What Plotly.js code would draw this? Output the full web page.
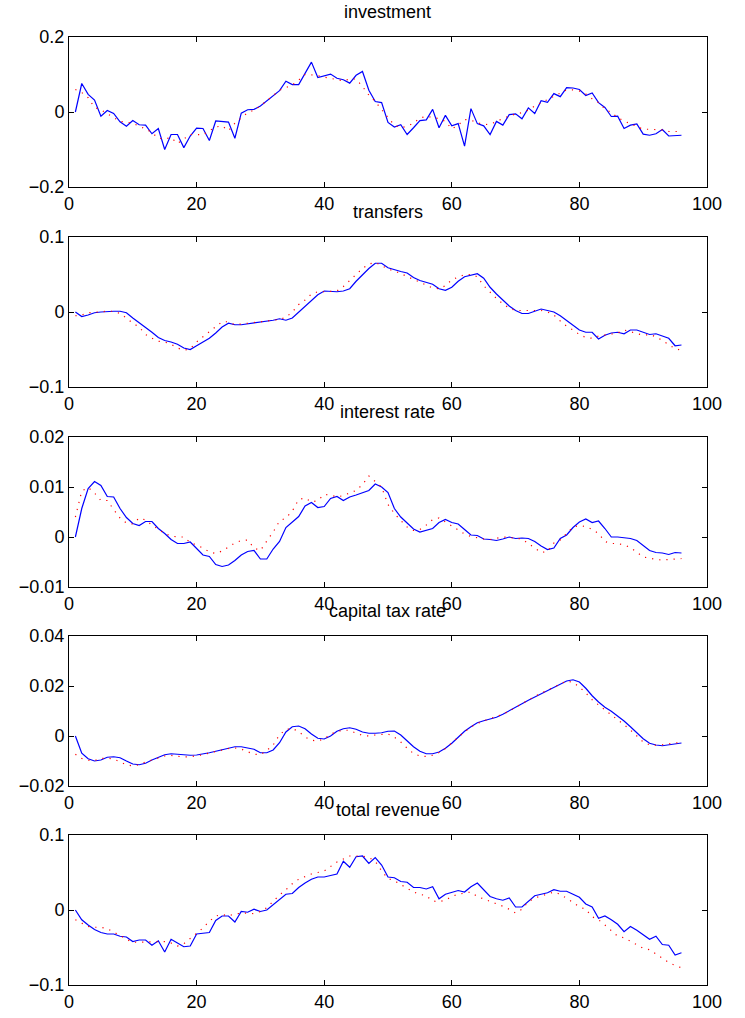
<!DOCTYPE html>
<html>
<head>
<meta charset="utf-8">
<script src="https://cdn.plot.ly/plotly-3.0.1.min.js"></script>
<style>
html,body{margin:0;padding:0;background:#fff;}
#chart{width:745px;height:1018px;}
</style>
</head>
<body>
<div id="chart"></div>
<script>
// ---- data ----
const panelTitles = ["investment", "transfers", "interest rate", "capital tax rate", "total revenue"];
const xTickVals = [0, 20, 40, 60, 80, 100];

const investmentBlue = [0, 0.076, 0.047, 0.032, -0.011, 0.004, -0.004, -0.026, -0.038, -0.023,
 -0.034, -0.035, -0.058, -0.044, -0.1, -0.06, -0.06, -0.095, -0.064, -0.043,
 -0.044, -0.076, -0.024, -0.026, -0.027, -0.07, -0.003, 0.006, 0.007, 0.016,
 0.03, 0.043, 0.057, 0.082, 0.073, 0.073, 0.103, 0.133, 0.092, 0.096,
 0.101, 0.09, 0.086, 0.077, 0.098, 0.108, 0.058, 0.028, 0.025, -0.028,
 -0.04, -0.034, -0.06, -0.042, -0.023, -0.021, 0.007, -0.042, -0.009, -0.037,
 -0.031, -0.091, 0.009, -0.031, -0.037, -0.06, -0.025, -0.035, -0.007, -0.005,
 -0.018, 0.011, -0.004, 0.03, 0.026, 0.049, 0.041, 0.065, 0.064, 0.06,
 0.044, 0.051, 0.025, 0.012, -0.012, -0.011, -0.044, -0.035, -0.032, -0.059,
 -0.062, -0.058, -0.047, -0.064, -0.062, -0.062];
const investmentRed = [0.06, 0.052, 0.038, 0.012, 0.006, -0.004, -0.015, -0.025, -0.027, -0.03,
 -0.038, -0.045, -0.055, -0.07, -0.072, -0.068, -0.084, -0.072, -0.06, -0.06,
 -0.061, -0.05, -0.04, -0.037, -0.05, -0.03, -0.015, -0.002, 0.005, 0.016,
 0.03, 0.043, 0.058, 0.065, 0.072, 0.085, 0.1, 0.099, 0.097, 0.093,
 0.089, 0.085, 0.083, 0.088, 0.088, 0.068, 0.045, 0.028, 0.005, -0.015,
 -0.035, -0.042, -0.038, -0.03, -0.016, -0.012, -0.014, -0.018, -0.025, -0.045,
 -0.035, -0.02, -0.022, -0.028, -0.034, -0.032, -0.026, -0.017, -0.011, -0.005,
 -0.002, 0.005, 0.016, 0.025, 0.034, 0.043, 0.052, 0.059, 0.059, 0.056,
 0.048, 0.035, 0.025, 0.008, -0.001, -0.015, -0.024, -0.032, -0.04, -0.046,
 -0.046, -0.046, -0.048, -0.052, -0.052, -0.052];

const transfersBlue = [0, -0.006, -0.004, -0.001, 0, 0.001, 0.001, 0.001, -0.001, -0.008,
 -0.014, -0.02, -0.027, -0.034, -0.038, -0.04, -0.043, -0.048, -0.05, -0.045,
 -0.04, -0.035, -0.028, -0.02, -0.015, -0.017, -0.017, -0.016, -0.015, -0.014,
 -0.013, -0.011, -0.009, -0.011, -0.008, 0, 0.008, 0.016, 0.023, 0.028,
 0.027, 0.027, 0.028, 0.031, 0.041, 0.05, 0.058, 0.065, 0.065, 0.059,
 0.056, 0.054, 0.052, 0.046, 0.042, 0.039, 0.037, 0.031, 0.029, 0.033,
 0.041, 0.047, 0.049, 0.051, 0.045, 0.033, 0.024, 0.016, 0.008, 0.002,
 -0.002, -0.002, 0.001, 0.004, 0.002, 0, -0.005, -0.011, -0.018, -0.024,
 -0.027, -0.027, -0.036, -0.031, -0.028, -0.027, -0.029, -0.024, -0.024, -0.027,
 -0.03, -0.029, -0.032, -0.035, -0.045, -0.044];
const transfersRed = [-0.005, -0.004, -0.001, 0, 0.001, 0.001, 0.001, -0.002, -0.008, -0.015,
 -0.02, -0.03, -0.035, -0.039, -0.04, -0.043, -0.048, -0.051, -0.049, -0.04,
 -0.033, -0.026, -0.019, -0.013, -0.013, -0.017, -0.016, -0.015, -0.014, -0.013,
 -0.012, -0.011, -0.01, -0.007, 0, 0.01, 0.016, 0.024, 0.027, 0.027,
 0.027, 0.028, 0.034, 0.042, 0.05, 0.058, 0.064, 0.066, 0.062, 0.057,
 0.055, 0.051, 0.048, 0.044, 0.04, 0.036, 0.032, 0.031, 0.035, 0.043,
 0.047, 0.05, 0.05, 0.047, 0.035, 0.026, 0.018, 0.011, 0.005, 0.002,
 0.002, 0.002, 0.003, 0.002, 0, -0.004, -0.012, -0.019, -0.024, -0.03,
 -0.034, -0.035, -0.032, -0.031, -0.03, -0.028, -0.024, -0.026, -0.029, -0.031,
 -0.03, -0.033, -0.038, -0.044, -0.049, -0.051];

const interestBlue = [0, 0.0057, 0.0097, 0.0111, 0.0103, 0.0081, 0.008, 0.0057, 0.0039, 0.0027,
 0.0023, 0.0031, 0.0031, 0.0017, 0.0007, -0.0005, -0.0013, -0.0013, -0.001, -0.0023,
 -0.0036, -0.0039, -0.0055, -0.0059, -0.0056, -0.0047, -0.0036, -0.0029, -0.0027, -0.0044,
 -0.0044, -0.0024, -0.0009, 0.0019, 0.0031, 0.0041, 0.0062, 0.0069, 0.0059, 0.0061,
 0.0077, 0.0081, 0.0073, 0.008, 0.0084, 0.0088, 0.0093, 0.0106, 0.01, 0.0089,
 0.0057, 0.004, 0.0027, 0.0016, 0.001, 0.0013, 0.0017, 0.0029, 0.0035, 0.0029,
 0.0026, 0.0015, 0.0004, 0.0003, -0.0004, -0.0005, -0.0007, -0.0004, 0, -0.0003,
 -0.0002, -0.0003, -0.0009, -0.0018, -0.0025, -0.0022, -0.0003, 0.0004, 0.0019, 0.003,
 0.0036, 0.0029, 0.0032, 0.0017, 0, 0, -0.0001, -0.0003, -0.0007, -0.0017,
 -0.0027, -0.0031, -0.0032, -0.0035, -0.0031, -0.0032];
const interestRed = [0.004, 0.0092, 0.0099, 0.0088, 0.0073, 0.0073, 0.0055, 0.0038, 0.0028, 0.0026,
 0.0038, 0.0034, 0.0024, 0.0016, 0.0007, 0.0002, 0, 0, -0.0011, -0.0016,
 -0.0022, -0.003, -0.0033, -0.0028, -0.002, -0.0012, -0.0007, -0.0006, -0.0022, -0.0027,
 -0.0008, 0.001, 0.0032, 0.0038, 0.0052, 0.0075, 0.0078, 0.007, 0.0073, 0.0085,
 0.0084, 0.008, 0.0083, 0.0088, 0.0093, 0.0105, 0.0122, 0.0111, 0.01, 0.0065,
 0.0047, 0.0033, 0.002, 0.0013, 0.0015, 0.0024, 0.0035, 0.0038, 0.003, 0.0022,
 0.0014, 0.0006, 0.0001, -0.0002, -0.0004, -0.0005, -0.0002, 0, -0.0001, -0.0002,
 -0.0004, -0.0013, -0.0022, -0.0031, -0.0029, -0.0012, -0.0006, 0.0008, 0.002, 0.0023,
 0.0021, 0.0015, 0.0007, -0.0009, -0.0013, -0.0013, -0.0016, -0.0021, -0.0031, -0.004,
 -0.0042, -0.0045, -0.0046, -0.0045, -0.0044, -0.0043];

const capTaxBlue = [0, -0.0069, -0.0091, -0.01, -0.0096, -0.0085, -0.0083, -0.0087, -0.01, -0.0112,
 -0.0115, -0.0109, -0.0096, -0.0084, -0.0075, -0.0071, -0.0073, -0.0076, -0.0077, -0.0076,
 -0.0073, -0.0067, -0.0061, -0.0055, -0.0048, -0.0043, -0.0043, -0.0047, -0.0053, -0.0067,
 -0.0067, -0.0056, -0.0027, 0.0016, 0.0037, 0.004, 0.0029, 0.0008, -0.0009, -0.0012,
 0, 0.0019, 0.0029, 0.0033, 0.0027, 0.0016, 0.0011, 0.0011, 0.0013, 0.0019,
 0.002, 0.0004, -0.0019, -0.0043, -0.0061, -0.0071, -0.0071, -0.0064, -0.0049, -0.0029,
 -0.0005, 0.0019, 0.0037, 0.0053, 0.0061, 0.0067, 0.0075, 0.0087, 0.01, 0.0115,
 0.0129, 0.0143, 0.0156, 0.0169, 0.0181, 0.0195, 0.0208, 0.022, 0.0225, 0.0216,
 0.0191, 0.0161, 0.0136, 0.0115, 0.0099, 0.008, 0.006, 0.0037, 0.0012, -0.0011,
 -0.0029, -0.0036, -0.0039, -0.0036, -0.0031, -0.0028];
const capTaxRed = [-0.0073, -0.009, -0.0097, -0.0098, -0.009, -0.0088, -0.0092, -0.0102, -0.0115, -0.012,
 -0.0115, -0.0104, -0.0096, -0.0087, -0.008, -0.0078, -0.0082, -0.0084, -0.0083, -0.008,
 -0.0075, -0.0068, -0.0062, -0.0055, -0.005, -0.0048, -0.0052, -0.0063, -0.0073, -0.0075,
 -0.0058, -0.0036, 0.0005, 0.0026, 0.003, 0.0018, -0.0004, -0.0017, -0.002, -0.0011,
 0.0007, 0.0018, 0.0023, 0.0023, 0.0011, 0.0003, 0, 0.0004, 0.0006, 0.0008,
 -0.0005, -0.0024, -0.0049, -0.007, -0.008, -0.0082, -0.0077, -0.0066, -0.005, -0.0027,
 -0.0003, 0.0017, 0.0036, 0.005, 0.006, 0.0068, 0.0077, 0.0087, 0.01, 0.0115,
 0.013, 0.0145, 0.0158, 0.0171, 0.0183, 0.0195, 0.0207, 0.022, 0.0215, 0.0196,
 0.0172, 0.0145, 0.0124, 0.0105, 0.0083, 0.0065, 0.0045, 0.0024, -0.0002, -0.0024,
 -0.0035, -0.0037, -0.0035, -0.0031, -0.0027, -0.0025];

const revenueBlue = [0, -0.013, -0.02, -0.026, -0.03, -0.032, -0.032, -0.035, -0.036, -0.042,
 -0.04, -0.04, -0.047, -0.041, -0.056, -0.039, -0.044, -0.049, -0.048, -0.032,
 -0.031, -0.03, -0.014, -0.008, -0.008, -0.016, -0.002, -0.003, 0.001, -0.002,
 0, 0.007, 0.015, 0.021, 0.022, 0.03, 0.036, 0.041, 0.044, 0.044,
 0.046, 0.048, 0.065, 0.057, 0.071, 0.072, 0.062, 0.07, 0.06, 0.044,
 0.043, 0.038, 0.037, 0.03, 0.03, 0.028, 0.031, 0.015, 0.021, 0.024,
 0.026, 0.024, 0.031, 0.036, 0.027, 0.018, 0.015, 0.013, 0.016, 0.004,
 0.004, 0.012, 0.019, 0.021, 0.023, 0.027, 0.025, 0.025, 0.021, 0.017,
 0.008, 0.004, -0.011, -0.008, -0.013, -0.019, -0.029, -0.022, -0.027, -0.033,
 -0.039, -0.035, -0.046, -0.047, -0.06, -0.057];
const revenueRed = [-0.013, -0.018, -0.022, -0.023, -0.023, -0.025, -0.029, -0.034, -0.039, -0.043,
 -0.043, -0.043, -0.043, -0.043, -0.042, -0.044, -0.048, -0.045, -0.038, -0.032,
 -0.024, -0.015, -0.008, -0.006, -0.008, -0.005, -0.004, -0.004, -0.005, -0.002,
 0.003, 0.012, 0.02, 0.027, 0.035, 0.041, 0.045, 0.048, 0.05, 0.052,
 0.058, 0.064, 0.068, 0.072, 0.072, 0.072, 0.07, 0.065, 0.052, 0.042,
 0.039, 0.034, 0.028, 0.024, 0.021, 0.019, 0.012, 0.011, 0.013, 0.018,
 0.021, 0.023, 0.024, 0.018, 0.015, 0.012, 0.008, 0.005, 0.001, -0.004,
 0.001, 0.011, 0.016, 0.019, 0.021, 0.024, 0.021, 0.016, 0.01, 0.004,
 0.001, -0.009, -0.013, -0.02, -0.027, -0.035, -0.037, -0.042, -0.047, -0.051,
 -0.053, -0.059, -0.064, -0.07, -0.074, -0.077];

const blueSeries = [investmentBlue, transfersBlue, interestBlue, capTaxBlue, revenueBlue];
const redSeries = [investmentRed, transfersRed, interestRed, capTaxRed, revenueRed];
const yRanges = [[-0.2, 0.2], [-0.1, 0.1], [-0.01, 0.02], [-0.02, 0.04], [-0.1, 0.1]];
const yTickVals = [[-0.2, 0, 0.2], [-0.1, 0, 0.1], [-0.01, 0, 0.01, 0.02], [-0.02, 0, 0.02, 0.04], [-0.1, 0, 0.1]];

// ---- layout geometry (pixels of the 745x1018 page) ----
const W = 745, H = 1018;
const axLeft = 69, axRight = 707;
const axTops = [37, 237, 437, 636, 835];
const axHeight = 150;

const font = {family: "Liberation Sans, Arial, Helvetica, sans-serif", size: 18, color: "#000"};
const traces = [];
const layout = {
  width: W, height: H,
  margin: {l: 0, r: 0, t: 0, b: 0},
  paper_bgcolor: "#fff", plot_bgcolor: "#fff",
  showlegend: false,
  font: font,
  annotations: []
};

function fmt(v) {
  const s = String(Math.abs(v));
  return (v < 0 ? "\u2212" : "") + s;
}

for (let i = 0; i < 5; i++) {
  const n = i + 1;
  const xa = n === 1 ? "x" : "x" + n;
  const ya = n === 1 ? "y" : "y" + n;
  const periods = blueSeries[i].map((_, k) => k + 1);
  traces.push({
    x: periods, y: blueSeries[i], xaxis: xa, yaxis: ya,
    type: "scatter", mode: "lines",
    line: {color: "#0000ff", width: 1.2}, hoverinfo: "skip"
  });
  traces.push({
    x: periods, y: redSeries[i], xaxis: xa, yaxis: ya,
    type: "scatter", mode: "lines",
    line: {color: "#ff0000", width: 1.2, dash: "1.2px,6px"}, hoverinfo: "skip"
  });
  const top = axTops[i], bottom = top + axHeight;
  const axisCommon = {
    showline: true, mirror: "ticks", linecolor: "#000", linewidth: 1,
    ticks: "inside", ticklen: 5, tickwidth: 1, tickcolor: "#000",
    showgrid: false, zeroline: false, fixedrange: true,
    tickfont: font
  };
  layout["xaxis" + (n === 1 ? "" : n)] = Object.assign({}, axisCommon, {
    domain: [axLeft / W, axRight / W],
    range: [0, 100],
    tickmode: "array", tickvals: xTickVals, ticktext: xTickVals.map(String),
    anchor: ya
  });
  layout["yaxis" + (n === 1 ? "" : n)] = Object.assign({}, axisCommon, {
    domain: [1 - bottom / H, 1 - top / H],
    range: yRanges[i],
    tickmode: "array", tickvals: yTickVals[i], ticktext: yTickVals[i].map(fmt),
    anchor: xa
  });
  layout.annotations.push({
    text: panelTitles[i], xref: "paper", yref: "paper",
    x: (axLeft + axRight) / 2 / W, y: 1 - (top - 25) / H,
    xanchor: "center", yanchor: "middle", showarrow: false,
    font: font
  });
}

Plotly.newPlot("chart", traces, layout, {staticPlot: true, displayModeBar: false});
</script>
</body>
</html>
